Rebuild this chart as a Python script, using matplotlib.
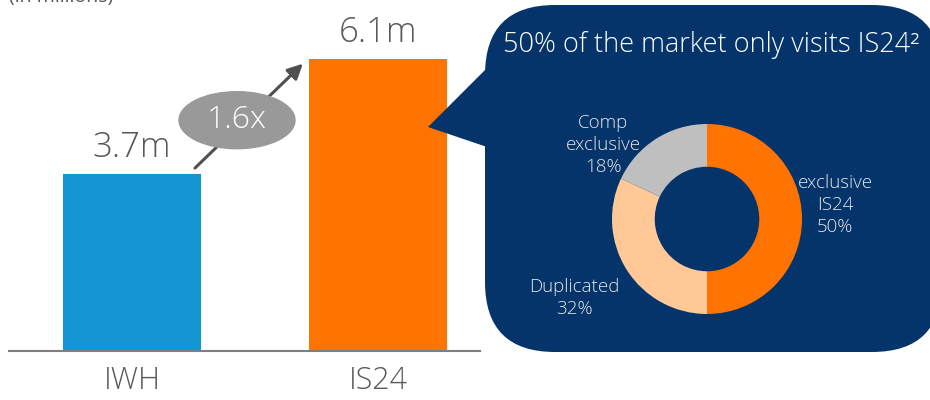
import matplotlib
matplotlib.use("Agg")
import matplotlib.pyplot as plt
from matplotlib.patches import FancyBboxPatch, Polygon, Ellipse

plt.rcParams['font.family'] = ['Open Sans', 'DejaVu Sans']

# bar data (in millions)
categories = ["IWH", "IS24"]
visitors = [3.7, 6.1]
value_labels = ["3.7m", "6.1m"]
growth_label = "1.6x"

# donut data
slice_labels = ["exclusive\nIS24\n50%", "Duplicated\n32%", "Comp\nexclusive\n18%"]
slice_shares = [50, 32, 18]

bar_colors = ["#1596D3", "#FF7300"]
slice_colors = ["#FF7300", "#FFC896", "#BFBFBF"]
navy = "#04346A"
grey_txt = "#595959"

W, H = 930, 400
fig = plt.figure(figsize=(W / 100, H / 100), dpi=100)

# ---- bar chart
ax = fig.add_axes([9 / W, (H - 351) / H, 471 / W, 351 / H])
xs = list(range(len(categories)))
ax.bar(xs, visitors, width=0.56, color=bar_colors, zorder=2)
ax.set_xlim(-0.5, 1.415)
ax.set_ylim(0, 7.33)
for x, v, lab in zip(xs, visitors, value_labels):
    ax.text(x, v + 0.18, lab, ha="center", va="bottom", fontsize=25,
            color=grey_txt, fontweight="light")
for s in ["top", "right", "left"]:
    ax.spines[s].set_visible(False)
ax.spines["bottom"].set_color("#7F7F7F")
ax.spines["bottom"].set_linewidth(1.5)
ax.set_yticks([])
ax.set_xticks(xs)
ax.set_xticklabels(categories, fontsize=22, color=grey_txt, fontweight="light")
ax.tick_params(axis="x", length=0, pad=10)

# growth arrow + bubble
ax.annotate("", xy=(0.703, 6.04), xytext=(0.248, 3.78),
            arrowprops=dict(arrowstyle="-|>,head_length=0.9,head_width=0.45",
                            color="#505050", lw=2.2))
bub = Ellipse((0.427, 4.82), width=116 / 246, height=57 / 47.87,
              color="#999999", zorder=3)
ax.add_patch(bub)
ax.text(0.427, 4.82, growth_label, ha="center", va="center", fontsize=23,
        color="white", fontweight="light", zorder=4)

# ---- callout overlay (pixel coordinates)
ov = fig.add_axes([0, 0, 1, 1])
ov.set_xlim(0, W)
ov.set_ylim(H, 0)
ov.axis("off")
ov.patch.set_alpha(0)
box = FancyBboxPatch((485, 5), 457, 347,
                     boxstyle="round,pad=0,rounding_size=70",
                     facecolor=navy, edgecolor="none")
ov.add_patch(box)
ov.add_patch(Polygon([(490, 65), (428, 127), (490, 148)], closed=True,
                     facecolor=navy, edgecolor="none"))
ov.text(711, 45, "50% of the market only visits IS24\u00b2", ha="center",
        va="center", fontsize=19.5, color="white", fontweight="light")
ov.text(9, -3, "(in millions)", ha="left", va="center", fontsize=14,
        color=grey_txt)

label_pos = [(835, 205), (574, 298), (603, 145)]
for (px, py), lab in zip(label_pos, slice_labels):
    ov.text(px, py, lab, ha="center", va="center", fontsize=13.5,
            color="#E6E6E6", fontweight="light", linespacing=1.3)

# ---- donut
pa = fig.add_axes([612 / W, (H - 314) / H, 190 / W, 190 / H])
pa.pie(slice_shares, colors=slice_colors, startangle=90, counterclock=False,
       radius=1, wedgeprops=dict(width=0.45, edgecolor="none"))
pa.set_xlim(-1, 1)
pa.set_ylim(-1, 1)
pa.set_aspect("auto")

fig.savefig("out.png", dpi=100)
